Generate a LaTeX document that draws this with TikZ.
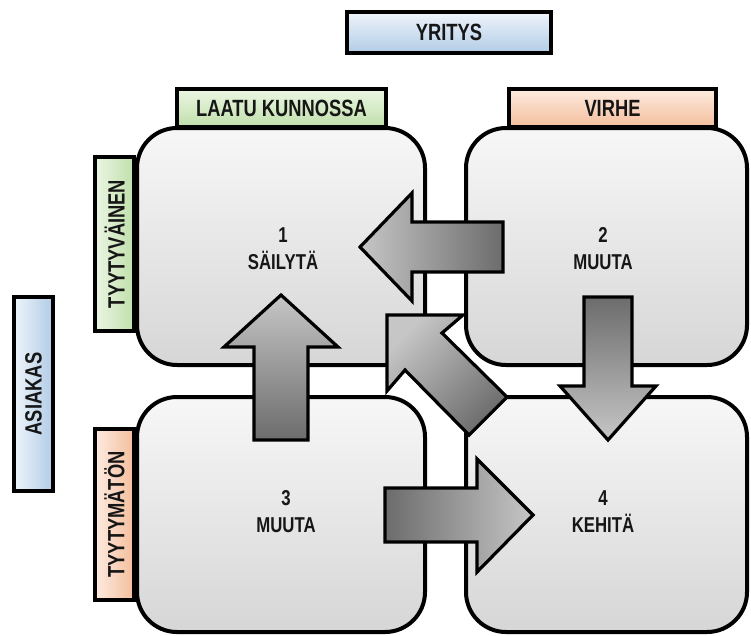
\documentclass[tikz,border=0pt]{standalone}
\usepackage{fontspec}
\setmainfont{Liberation Sans}[FakeStretch=0.78]
\definecolor{quadtop}{HTML}{F7F7F7}
\definecolor{quadbot}{HTML}{D6D6D6}
\definecolor{arrlight}{HTML}{C6C6C6}
\definecolor{arrdark}{HTML}{6C6C6C}
\definecolor{bluelt}{HTML}{EEF4FB}
\definecolor{bluedk}{HTML}{B2CCE6}
\definecolor{greenlt}{HTML}{ECF6E4}
\definecolor{greendk}{HTML}{BFDFAA}
\definecolor{orangelt}{HTML}{FDEBE0}
\definecolor{orangedk}{HTML}{F4BE9C}
\definecolor{txt}{HTML}{161616}
\tikzset{
  tagbox/.style={draw=black, line width=4pt, rectangle, inner sep=0pt,
    font=\fontsize{23.5}{25}\selectfont\bfseries, text=txt},
  quad/.style={draw=black, line width=4pt, rectangle, rounded corners=40pt,
    inner sep=0pt, top color=quadtop, bottom color=quadbot},
  quadtext/.style={align=center, font=\fontsize{21.5}{27}\selectfont\bfseries, text=txt},
  blockarrow/.style={draw=black, line width=3.2pt, line join=miter},
}
\begin{document}
\begin{tikzpicture}[x=1pt,y=-1pt]
\useasboundingbox (0,0) rectangle (751,635);

% axis titles
\node[tagbox, minimum width=204pt, minimum height=41pt,
  top color=bluelt, bottom color=bluedk] (yritys) at (449,32.5) {YRITYS};
\node[tagbox, minimum width=39pt, minimum height=194pt,
  left color=bluelt, right color=bluedk] (asiakas) at (33.5,394)
  {\rotatebox{90}{ASIAKAS}};

% column and row headers
\node[tagbox, minimum width=209pt, minimum height=38pt,
  top color=greenlt, bottom color=greendk] (laatu) at (281.5,108) {LAATU KUNNOSSA};
\node[tagbox, minimum width=207pt, minimum height=38pt,
  top color=orangelt, bottom color=orangedk] (virhe) at (612.5,108) {VIRHE};
\node[tagbox, minimum width=39pt, minimum height=174pt,
  left color=greenlt, right color=greendk] (tyytyvainen) at (114.5,244)
  {\rotatebox{90}{TYYTYVÄINEN}};
\node[tagbox, minimum width=39pt, minimum height=171pt,
  left color=orangelt, right color=orangedk] (tyytymaton) at (114.5,514.5)
  {\rotatebox{90}{TYYTYMÄTÖN}};

% the four quadrants
\node[quad, minimum width=288pt, minimum height=237pt] (q1) at (281,246.5) {};
\node[quad, minimum width=281pt, minimum height=237pt] (q2) at (606.5,246.5) {};
\node[quad, minimum width=288pt, minimum height=235pt] (q3) at (281,514.5) {};
\node[quad, minimum width=281pt, minimum height=235pt] (q4) at (606.5,514.5) {};

% block arrows between quadrants
% 2 -> 1
\path[blockarrow, left color=arrlight, right color=arrdark]
  (360,247) -- (412,193) -- (412,222) -- (503,222) -- (503,272)
  -- (412,272) -- (412,301) -- cycle;
% 2 -> 4
\path[blockarrow, top color=arrdark, bottom color=arrlight]
  (608,440) -- (560,386) -- (584,386) -- (584,297) -- (632,297)
  -- (632,386) -- (656,386) -- cycle;
% 3 -> 1
\path[blockarrow, top color=arrlight, bottom color=arrdark]
  (281,295) -- (338,347) -- (308,347) -- (308,440) -- (254,440)
  -- (254,347) -- (224,347) -- cycle;
% 3 -> 4
\path[blockarrow, left color=arrdark, right color=arrlight]
  (533,515) -- (477,572) -- (477,542) -- (385,542) -- (385,488)
  -- (477,488) -- (477,459) -- cycle;
% 4 -> 1
\path[blockarrow, top color=arrlight, bottom color=arrdark, shading angle=45]
  (387,315) -- (463,315) -- (442,333) -- (507,397) -- (469,435)
  -- (405,370) -- (387,391) -- cycle;

% quadrant captions
\node[quadtext] (t1) at (283,249) {1\\SÄILYTÄ};
\node[quadtext] (t2) at (603,249) {2\\MUUTA};
\node[quadtext] (t3) at (286,512) {3\\MUUTA};
\node[quadtext] (t4) at (603,512) {4\\KEHITÄ};
\end{tikzpicture}
\end{document}
